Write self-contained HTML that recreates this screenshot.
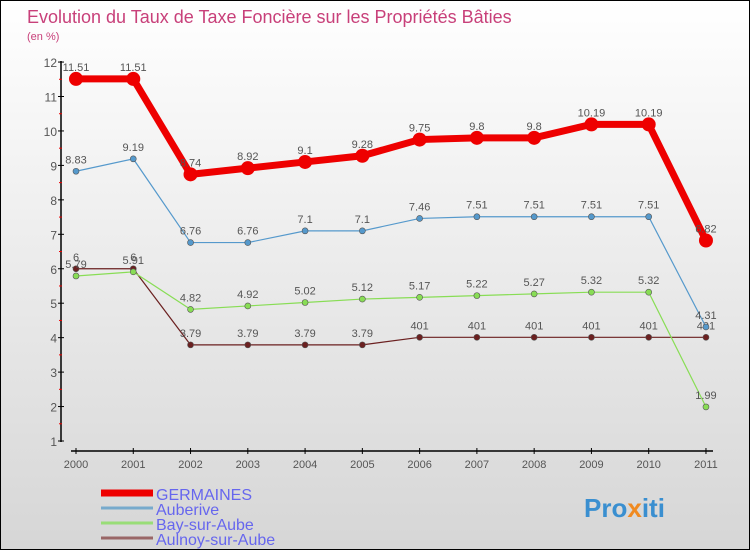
<!DOCTYPE html>
<html><head><meta charset="utf-8"><style>
body{margin:0}
#c{width:748px;height:548px;border:1px solid #000;background:linear-gradient(#fff,#d6d6d6);position:relative;font-family:"Liberation Sans",sans-serif;overflow:hidden}
</style></head><body>
<div id="c">
<svg width="748" height="548" id="s">
<text x="26" y="22" font-size="18" fill="#c8407a">Evolution du Taux de Taxe Foncière sur les Propriétés Bâties</text>
<text x="26" y="39" font-size="11" fill="#c8407a">(en %)</text>
<text x="583" y="516" font-size="26" font-weight="bold" fill="#3a8fd0">Pro<tspan fill="#f08a20">x</tspan>iti</text>
</svg>
</div>
<script>
const years=[2000,2001,2002,2003,2004,2005,2006,2007,2008,2009,2010,2011];
const germaines=[11.51,11.51,8.74,8.92,9.1,9.28,9.75,9.8,9.8,10.19,10.19,6.82];
const auberive=[8.83,9.19,6.76,6.76,7.1,7.1,7.46,7.51,7.51,7.51,7.51,4.31];
const bay=[5.79,5.91,4.82,4.92,5.02,5.12,5.17,5.22,5.27,5.32,5.32,1.99];
const aulnoy=[6,6,3.79,3.79,3.79,3.79,4.01,4.01,4.01,4.01,4.01,4.01];
const yTicks=[1,2,3,4,5,6,7,8,9,10,11,12];
const ns="http://www.w3.org/2000/svg",s=document.getElementById('s');
const X=i=>75+i*57.27, Y=v=>440-(v-1)*34.45;
function mk(t,a,p){const e=document.createElementNS(ns,t);for(const k in a)e.setAttribute(k,a[k]);(p||s).appendChild(e);return e;}
let e=mk('line',{x1:60,y1:60,x2:60,y2:441,stroke:'#000','stroke-width':1.5});


e=mk('line',{x1:70,y1:450,x2:712,y2:450,stroke:'#000','stroke-width':1.5});


yTicks.forEach(v=>{mk('line',{x1:57,x2:63,y1:Y(v),y2:Y(v),stroke:'#000'});
if(v<12)mk('line',{x1:58,x2:61,y1:Y(v+0.5),y2:Y(v+0.5),stroke:'#e00'});
e=mk('text',{x:56,y:Y(v)+5,'text-anchor':'end','font-size':12,fill:'#555'});e.textContent=v;

});
years.forEach((y,i)=>{mk('line',{x1:X(i),x2:X(i),y1:447,y2:453,stroke:'#000'});
e=mk('text',{x:X(i),y:467,'text-anchor':'middle','font-size':11,fill:'#555'});e.textContent=y;

});
function series(d,col,w,r,name,fmt){
 const g=mk('g',{});
 
 
 const l=mk('polyline',{points:d.map((v,i)=>X(i)+','+Y(v)).join(' '),fill:'none',stroke:col,'stroke-width':w},g);
 
 
 d.forEach((v,i)=>{const c=mk('circle',{cx:X(i),cy:Y(v),r:r,fill:col,stroke:w>2?col:'#555','stroke-width':w>2?0:0.6},g);
 
 
 const t=mk('text',{x:X(i),y:Y(v)-8,'text-anchor':'middle','font-size':11,fill:'#555'},g);t.textContent=fmt(v);
 
 });
}
const f=v=>String(v);
series(aulnoy,'#6b2020',1.2,3,'aulnoy',v=>v===4.01?'401':String(v));
series(bay,'#88dd55',1.2,3,'bay',f);
series(auberive,'#5599cc',1.2,3,'auberive',f);
series(germaines,'#ee0000',7,7,'germaines',f);
const leg=[['GERMAINES','#ee0000',7,495,16],['Auberive','#77aacc',3,510,16],['Bay-sur-Aube','#99dd77',3,525,16],['Aulnoy-sur-Aube','#996666',3,540,16]];
leg.forEach(([n,c,w,y,fs])=>{const g=mk('g',{});


mk('line',{x1:100,x2:152,y1:y-3,y2:y-3,stroke:c,'stroke-width':w},g);
const t=mk('text',{x:155,y:y+4,'font-size':fs,fill:'#6666ee'},g);t.textContent=n;});
</script>
</body></html>
